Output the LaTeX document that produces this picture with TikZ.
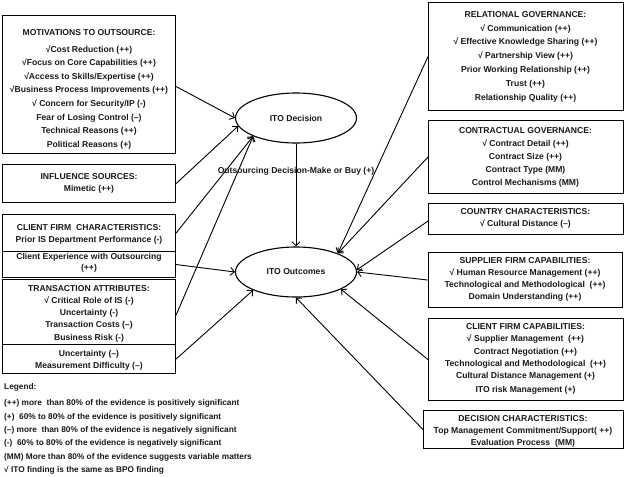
\documentclass[tikz,border=0pt]{standalone}
\usepackage{fontspec}
\setmainfont{Liberation Sans}
\usetikzlibrary{arrows.meta,shapes.geometric}
\tikzset{
  box/.style={draw, line width=1.1pt, inner sep=0pt, anchor=north west},
  txt/.style={font=\bfseries\fontsize{8.6}{#1}\selectfont, align=center, inner sep=0pt, text=black!90},
  txt/.default=12,
  legtxt/.style={font=\bfseries\fontsize{8.3}{13.4}\selectfont, align=left, inner sep=0pt, text=black!90},
  arr/.style={-{Straight Barb[length=4pt,width=8pt]}, line width=0.9pt},
  ell/.style={ellipse, draw, line width=1.1pt, minimum width=121pt, minimum height=50pt, inner sep=0pt,
    font=\bfseries\fontsize{8.6}{10}\selectfont, text=black!90}
}
\begin{document}
\begin{tikzpicture}[x=1pt,y=-1pt]
\useasboundingbox (0,0) rectangle (625,477);

% left boxes
\node[box, minimum width=173pt, minimum height=138pt] (mot) at (2,15) {};
\node[box, minimum width=173pt, minimum height=38pt] (inf) at (2,164) {};
\node[box, minimum width=173pt, minimum height=37pt] (cfcA) at (2,214) {};
\node[box, minimum width=173pt, minimum height=26pt] (cfcB) at (2,251) {};
\node[box, minimum width=173pt, minimum height=65pt] (taA) at (2,279) {};
\node[box, minimum width=173pt, minimum height=29pt] (taB) at (2,344) {};

% right boxes
\node[box, minimum width=195pt, minimum height=108pt] (rel) at (428,2) {};
\node[box, minimum width=195pt, minimum height=73pt] (con) at (428,120) {};
\node[box, minimum width=195pt, minimum height=31pt] (cou) at (428,203) {};
\node[box, minimum width=194pt, minimum height=55pt] (sup) at (428,252) {};
\node[box, minimum width=195pt, minimum height=82pt] (cfcap) at (428,318) {};
\node[box, minimum width=200pt, minimum height=38pt] (dch) at (423,410) {};

% texts left
\node[txt=13.6] (motT) at (89,89) {MOTIVATIONS TO OUTSOURCE:\\[3.4pt]
  √Cost Reduction (++)\\
  √Focus on Core Capabilities (++)\\
  √Access to Skills/Expertise (++)\\
  √Business Process Improvements (++)\\
  √ Concern for Security/IP (-)\\
  Fear of Losing Control (--)\\
  Technical Reasons (++)\\
  Political Reasons (+)};
\node[txt=12] (infT) at (89,183) {INFLUENCE SOURCES:\\ Mimetic (++)};
\node[txt=12] (cfcAT) at (89,234) {CLIENT FIRM\ \ CHARACTERISTICS:\\ Prior IS Department Performance (-)};
\node[txt=11] (cfcBT) at (89,263) {Client Experience with Outsourcing\\ (++)};
\node[txt=12.3] (taAT) at (89,313.5) {TRANSACTION ATTRIBUTES:\\
  √ Critical Role of IS (-)\\
  Uncertainty (-)\\
  Transaction Costs (--)\\
  Business Risk (-)};
\node[txt=12] (taBT) at (89,360) {Uncertainty (--)\\ Measurement Difficulty (--)};

% texts right
\node[txt=13.8] (relT) at (525.5,56.5) {RELATIONAL GOVERNANCE:\\
  √ Communication (++)\\
  √ Effective Knowledge Sharing (++)\\
  √ Partnership View (++)\\
  Prior Working Relationship (++)\\
  Trust (++)\\
  Relationship Quality (++)};
\node[txt=13] (conT) at (525.5,157) {CONTRACTUAL GOVERNANCE:\\
  √ Contract Detail (++)\\
  Contract Size (++)\\
  Contract Type (MM)\\
  Control Mechanisms (MM)};
\node[txt=12.5] (couT) at (525.5,218.5) {COUNTRY CHARACTERISTICS:\\ √ Cultural Distance (--)};
\node[txt=12] (supT) at (525,279) {SUPPLIER FIRM CAPABILITIES:\\
  √ Human Resource Management (++)\\
  Technological and Methodological\ \ (++)\\
  Domain Understanding (++)};
\node[txt=12.4] (cfcapT) at (525.5,359) {CLIENT FIRM CAPABILITIES:\\
  √ Supplier Management\ \ (++)\\
  Contract Negotiation (++)\\
  Technological and Methodological\ \ (++)\\
  Cultural Distance Management (+)\\[1.6pt]
  ITO risk Management (+)};
\node[txt=12] (dchT) at (523,431) {DECISION CHARACTERISTICS:\\
  Top Management Commitment/Support( ++)\\
  Evaluation Process\ \ (MM)};

% legend
\node[legtxt, anchor=west] (leg) at (4,429) {Legend:\\[2.6pt]
  (++) more\ \ than 80\% of the evidence is positively significant\\
  (+)\ \ 60\% to 80\% of the evidence is positively significant\\
  (--) more\ \ than 80\% of the evidence is negatively significant\\
  (-)\ \ 60\% to 80\% of the evidence is negatively significant\\
  (MM) More than 80\% of the evidence suggests variable matters\\
  √ ITO finding is the same as BPO finding};

% ellipses
\node[ell] (dec) at (296,118) {ITO Decision};
\node[ell] (out) at (296,272) {ITO Outcomes};

% connectors to decision
\draw[arr] ([yshift=-2pt]mot.east) -- (dec.180);
\draw[arr] (inf.east) -- (dec.188);
\draw[arr] (cfcA.east) -- (dec.203);
\draw[arr] ([yshift=-3pt]taA.east) -- (dec.203);
\draw[arr] (dec) -- (out) node[txt, pos=0.27] (lab) {Outsourcing Decision-Make or Buy (+)};

% connectors to outcomes (left)
\draw[arr] (cfcB.east) -- (out.180);
\draw[arr] (taB.east) -- (out.203);

% connectors to outcomes (right)
\draw[arr] (rel.west) -- (out.24);
\draw[arr] (con.west) -- (out.24);
\draw[arr] ([yshift=-2pt]cou.west) -- (out.2);
\draw[arr] (sup.west) -- (out.0);
\draw[arr] (cfcap.west) -- (out.339);
\draw[arr] (dch.west) -- (out.south);
\end{tikzpicture}
\end{document}
